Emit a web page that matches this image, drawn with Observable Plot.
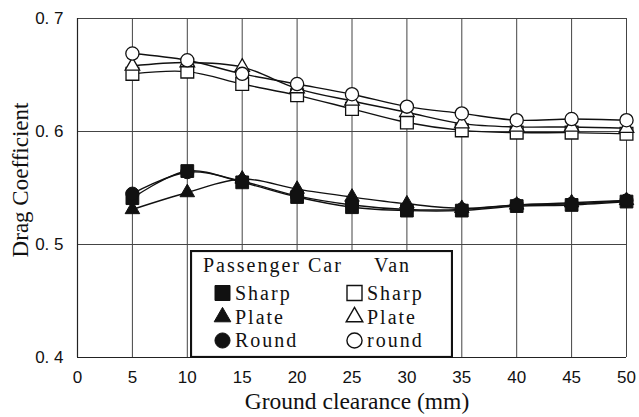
<!DOCTYPE html>
<html>
<head>
<meta charset="utf-8">
<script src="https://cdn.jsdelivr.net/npm/d3@7"></script>
<script src="https://cdn.jsdelivr.net/npm/@observablehq/plot@0.6"></script>
<style>
  html, body { margin: 0; padding: 0; background: #fff; }
  #chart { position: relative; width: 639px; height: 417px; }
  #chart svg { position: absolute; left: 0; top: 0; }
</style>
</head>
<body>
<div id="chart"></div>
<script>
// Ground clearance (mm) at which drag was measured
const clearance = [5, 10, 15, 20, 25, 30, 35, 40, 45, 50];

// Drag coefficient, passenger car model
const carSharp = [0.541, 0.565, 0.555, 0.542, 0.533, 0.530, 0.530, 0.534, 0.535, 0.538];
const carPlate = [0.531, 0.546, 0.558, 0.549, 0.542, 0.536, 0.532, 0.535, 0.537, 0.539];
const carRound = [0.545, 0.564, 0.556, 0.543, 0.535, 0.531, 0.531, 0.535, 0.536, 0.539];

// Drag coefficient, van model
const vanSharp = [0.651, 0.653, 0.642, 0.632, 0.620, 0.608, 0.601, 0.599, 0.599, 0.598];
const vanPlate = [0.658, 0.661, 0.657, 0.638, 0.627, 0.617, 0.607, 0.604, 0.604, 0.603];
const vanRound = [0.669, 0.663, 0.651, 0.642, 0.633, 0.622, 0.616, 0.610, 0.611, 0.610];

// Axis ticks and labels
const xTicks = [0, 5, 10, 15, 20, 25, 30, 35, 40, 45, 50];
const yTicks = [0.4, 0.5, 0.6, 0.7];
const xLabel = "Ground clearance (mm)";
const yLabel = "Drag Coefficient";

// Legend entries
const legendHeads = ["Passenger Car", "Van"];
const carLabels = ["Sharp", "Plate", "Round"];
const vanLabels = ["Sharp", "Plate", "round"];

const series = [
  {vehicle: "car", shape: "square", values: carSharp},
  {vehicle: "car", shape: "triangle", values: carPlate},
  {vehicle: "car", shape: "circle", values: carRound},
  {vehicle: "van", shape: "square", values: vanSharp},
  {vehicle: "van", shape: "triangle", values: vanPlate},
  {vehicle: "van", shape: "circle", values: vanRound}
];

const rows = series.flatMap((s, i) =>
  clearance.map((c, j) => ({id: i, vehicle: s.vehicle, shape: s.shape, x: c, y: s.values[j]}))
);

const sizeOf = {square: 7.2, triangle: 5.4, circle: 6.6};

const tickFont = "'Liberation Sans Narrow', 'Arial Narrow', 'Liberation Sans', sans-serif";
const serifFont = "'Liberation Serif', 'Times New Roman', serif";

const dotMarks = ["van", "car"].flatMap(v =>
  ["square", "triangle", "circle"].map(shape =>
    Plot.dot(rows.filter(d => d.vehicle === v && d.shape === shape), {
      x: "x", y: "y",
      symbol: () => shape,
      r: sizeOf[shape],
      fill: v === "car" ? "#111" : "#fff",
      stroke: "#111",
      strokeWidth: v === "car" ? 1 : 1.3
    })
  )
);

const plot = Plot.plot({
  width: 639,
  height: 417,
  marginLeft: 77,
  marginRight: 13,
  marginTop: 18,
  marginBottom: 60,
  style: {background: "transparent", color: "#111"},
  x: {domain: [0, 50]},
  y: {domain: [0.4, 0.7]},
  symbol: {type: "identity"},
  marks: [
    Plot.gridX(xTicks.filter(t => t > 0), {stroke: "#444", strokeOpacity: 1, strokeWidth: 1}),
    Plot.gridY(yTicks.filter(t => t > 0.4), {stroke: "#444", strokeOpacity: 1, strokeWidth: 1}),
    Plot.ruleX([0], {stroke: "#222", strokeWidth: 1.2}),
    Plot.ruleY([0.4], {stroke: "#222", strokeWidth: 1.2}),
    Plot.axisX({
      ticks: xTicks, tickSize: 0, tickPadding: 13, label: null,
      fontSize: 17, fontFamily: tickFont, tickFormat: d => String(d)
    }),
    Plot.axisY({
      ticks: yTicks, tickSize: 0, tickPadding: 14, label: null,
      fontSize: 17, fontFamily: tickFont, tickFormat: d => d.toFixed(1).replace(".", ". ")
    }),
    Plot.text([xLabel], {
      text: d => d, frameAnchor: "bottom", lineAnchor: "middle", dy: 44, dx: 5,
      fontSize: 23.5, fontFamily: serifFont, fill: "#111"
    }),
    Plot.text([yLabel], {
      text: d => d, frameAnchor: "left", textAnchor: "middle", lineAnchor: "middle",
      rotate: -90, dx: -57, dy: -8,
      fontSize: 23, fontFamily: serifFont, fill: "#111"
    }),
    Plot.line(rows, {
      x: "x", y: "y", z: "id", curve: "catmull-rom",
      stroke: "#111", strokeWidth: 1.4
    }),
    ...dotMarks
  ]
});

const chart = document.getElementById("chart");
chart.appendChild(plot);

// Legend box drawn over the lower-middle part of the plot
const legend = d3.create("svg")
  .attr("width", 263)
  .attr("height", 108)
  .style("left", "190px")
  .style("top", "250px");

legend.append("rect")
  .attr("x", 1).attr("y", 1)
  .attr("width", 261).attr("height", 106)
  .attr("fill", "#fff").attr("stroke", "#111").attr("stroke-width", 2.2);

const textStyle = sel => sel
  .attr("font-family", serifFont)
  .attr("font-size", 20)
  .attr("letter-spacing", 2)
  .attr("fill", "#111");

legend.append("text").attr("x", 13).attr("y", 22).text(legendHeads[0]).call(textStyle);
legend.append("text").attr("x", 184).attr("y", 22).text(legendHeads[1]).call(textStyle);

const shapes = [d3.symbolSquare, d3.symbolTriangle, d3.symbolCircle];
const legendSizes = [225, 120, 180];
const rowY = [43, 67, 90.5];
const baseY = [50, 74, 97];

shapes.forEach((sym, i) => {
  const path = d3.symbol(sym, legendSizes[i])();
  legend.append("path")
    .attr("d", path)
    .attr("transform", `translate(32.5,${rowY[i]})`)
    .attr("fill", "#111").attr("stroke", "#111");
  legend.append("text").attr("x", 45).attr("y", baseY[i]).text(carLabels[i]).call(textStyle);
  legend.append("path")
    .attr("d", path)
    .attr("transform", `translate(164.5,${rowY[i]})`)
    .attr("fill", "#fff").attr("stroke", "#111").attr("stroke-width", 1.4);
  legend.append("text").attr("x", 177).attr("y", baseY[i]).text(vanLabels[i]).call(textStyle);
});

chart.appendChild(legend.node());
</script>
</body>
</html>
